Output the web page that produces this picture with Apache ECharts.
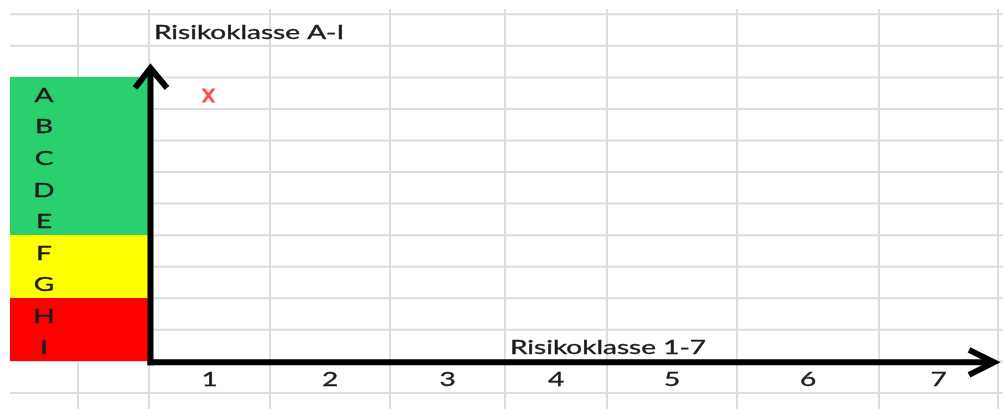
<!DOCTYPE html>
<html>
<head>
<meta charset="utf-8">
<script src="https://cdn.jsdelivr.net/npm/echarts@6/dist/echarts.min.js"></script>
<style>
  html, body { margin: 0; padding: 0; background: #ffffff; }
  #chart { width: 1003px; height: 409px; }
</style>
</head>
<body>
<div id="chart"></div>
<script>
// Risk classes on the horizontal axis (1–7) and on the vertical axis (A–I)
const classesX = ['1', '2', '3', '4', '5', '6', '7'];
const classesY = ['A', 'B', 'C', 'D', 'E', 'F', 'G', 'H', 'I'];
// Band that each letter class belongs to
const bandOfY = ['low', 'low', 'low', 'low', 'low', 'medium', 'medium', 'high', 'high'];
// Placed entries: [class 1–7, class A–I]
const entries = [['1', 'A']];
const titleY = 'Risikoklasse A-I';
const titleX = 'Risikoklasse 1-7';

// ---- sheet layout (pixels) ----
const W = 1003, H = 409;
const COL_EDGES = [10, 78, 149, 270, 390, 505, 607, 737, 879, 998, 1003];
const ROW_FIRST = 14.3, ROW_H = 31.55, ROW_LINES = 13, SHEET_TOP = 9;
const FIRST_CLASS_COL = 2;   // column that holds class "1"
const FIRST_CLASS_ROW = 2;   // row that holds class "A"
const TICK_ROW = FIRST_CLASS_ROW + classesY.length;  // row below the letter classes
const TITLE_X_COL = FIRST_CLASS_COL + 3;
const TEXT_DY = 18;          // cap-centre offset inside a cell

// ---- styles ----
const GRID_COLOR = '#dedede';
const TEXT_COLOR = '#1c1c1c';
const TEXT_FONT = '20px Lato';
const TEXT_SCALE_X = 1.4;
const BAND_COLORS = { low: '#2bd06e', medium: '#ffff00', high: '#ff0000' };
const MARK_COLOR = '#ff2020';
const AXIS_W = 6;

const rowTop = r => ROW_FIRST + r * ROW_H;
const colCenter = c => (COL_EDGES[c] + COL_EDGES[c + 1]) / 2;
const xOfClass = k => colCenter(FIRST_CLASS_COL + classesX.indexOf(k));
const yOfClass = k => rowTop(FIRST_CLASS_ROW + classesY.indexOf(k)) + TEXT_DY;

function text(api, x, y, str, align) {
  const p = api.coord([x, y]);
  return {
    type: 'text', x: p[0], y: p[1], scaleX: TEXT_SCALE_X,
    style: {
      text: str, fill: TEXT_COLOR, font: TEXT_FONT, align: align, verticalAlign: 'middle',
      stroke: TEXT_COLOR, lineWidth: 0.35
    }
  };
}

function line(api, x1, y1, x2, y2, style) {
  const a = api.coord([x1, y1]), b = api.coord([x2, y2]);
  return { type: 'line', shape: { x1: a[0], y1: a[1], x2: b[0], y2: b[1] }, style: style };
}

// Spreadsheet cell borders
function renderSheet(params, api) {
  const st = { stroke: GRID_COLOR, lineWidth: 2 };
  const children = [];
  for (let i = 1; i < COL_EDGES.length - 1; i++) {
    children.push(line(api, COL_EDGES[i], SHEET_TOP, COL_EDGES[i], H, st));
  }
  for (let r = 0; r < ROW_LINES; r++) {
    children.push(line(api, COL_EDGES[0], rowTop(r), W, rowTop(r), st));
  }
  return { type: 'group', children: children };
}

// Coloured band cell and letter for each vertical class
function renderBand(params, api) {
  const i = api.value(0);
  const r = FIRST_CLASS_ROW + i;
  const a = api.coord([COL_EDGES[0], rowTop(r)]);
  const b = api.coord([COL_EDGES[FIRST_CLASS_COL], rowTop(r + 1)]);
  const y1 = Math.round(a[1]), y2 = Math.round(b[1]);
  return {
    type: 'group',
    children: [
      { type: 'rect', shape: { x: a[0], y: y1, width: b[0] - a[0], height: y2 - y1 },
        style: { fill: BAND_COLORS[bandOfY[i]] } },
      text(api, colCenter(0), rowTop(r) + TEXT_DY, classesY[i], 'center')
    ]
  };
}

// Tick labels 1–7
function renderTicks(params, api) {
  const i = api.value(0);
  return text(api, colCenter(FIRST_CLASS_COL + i), rowTop(TICK_ROW) + TEXT_DY, classesX[i], 'center');
}

// Axis arrows and axis titles
function renderAxes(params, api) {
  const st = { stroke: '#000000', lineWidth: AXIS_W, lineJoin: 'miter', lineCap: 'butt', fill: null };
  const x0 = COL_EDGES[FIRST_CLASS_COL] + 1.5;
  const y0 = rowTop(TICK_ROW) + 1;
  const yTip = 68, xTip = 994;
  const poly = pts => ({ type: 'polyline', shape: { points: pts.map(p => api.coord(p)) }, style: st });
  return {
    type: 'group',
    children: [
      poly([[x0, y0 + AXIS_W / 2], [x0, yTip]]),
      poly([[x0 - 15.5, yTip + 20], [x0, yTip], [x0 + 16.5, yTip + 20]]),
      poly([[x0 - AXIS_W / 2, y0], [xTip, y0]]),
      poly([[xTip - 25, y0 - 12.5], [xTip, y0], [xTip - 25, y0 + 12.5]]),
      text(api, COL_EDGES[FIRST_CLASS_COL] + 5, rowTop(0) + TEXT_DY, titleY, 'left'),
      text(api, COL_EDGES[TITLE_X_COL] + 5, rowTop(TICK_ROW - 1) + TEXT_DY, titleX, 'left')
    ]
  };
}

const chart = echarts.init(document.getElementById('chart'), null, { renderer: 'canvas' });
chart.setOption({
  animation: false,
  backgroundColor: '#ffffff',
  grid: { left: 0, right: 0, top: 0, bottom: 0 },
  xAxis: { type: 'value', min: 0, max: W, show: false },
  yAxis: { type: 'value', min: 0, max: H, inverse: true, show: false },
  series: [
    { type: 'custom', renderItem: renderSheet, data: [[0, 0]], silent: true, z: 1 },
    { type: 'custom', renderItem: renderBand, data: classesY.map((c, i) => [i, 0]), silent: true, z: 2 },
    { type: 'custom', renderItem: renderTicks, data: classesX.map((c, i) => [i, 0]), silent: true, z: 2 },
    { type: 'custom', renderItem: renderAxes, data: [[0, 0]], silent: true, z: 3 },
    {
      type: 'scatter', z: 4,
      data: entries.map(e => [xOfClass(e[0]) - 1, yOfClass(e[1])]),
      symbol: 'path://M0,0 L3.4,0 L6.5,4.3 L9.6,0 L13,0 L8.3,6.5 L13,13 L9.6,13 L6.5,8.7 L3.4,13 L0,13 L4.7,6.5 Z',
      symbolSize: [14, 14],
      itemStyle: { color: MARK_COLOR }
    }
  ]
});
</script>
</body>
</html>
